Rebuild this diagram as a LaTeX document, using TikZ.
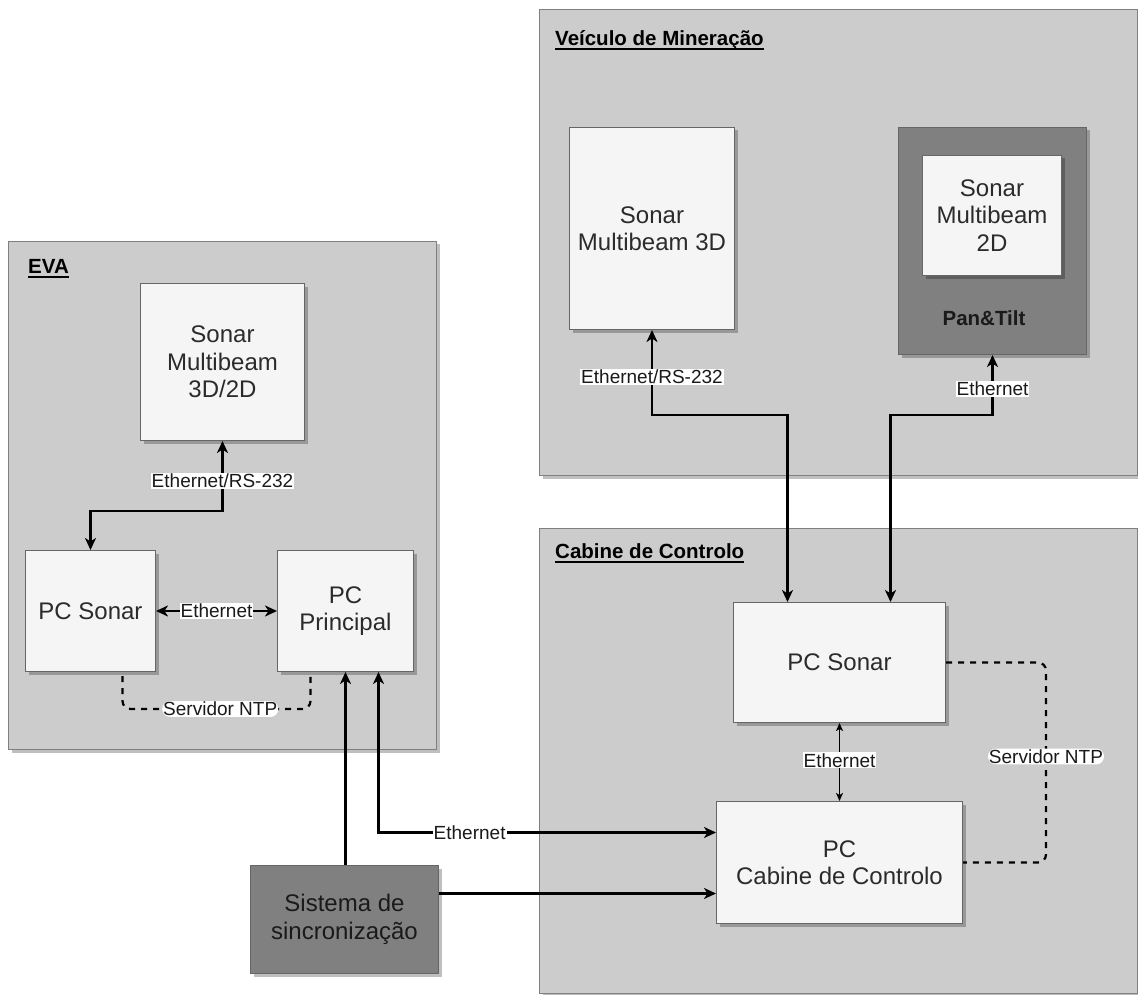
\documentclass[tikz,border=0pt]{standalone}
\usepackage{fontspec}
\setmainfont{Liberation Sans}
\usetikzlibrary{arrows.meta,shadows}
\definecolor{panel}{HTML}{CCCCCC}
\definecolor{panelline}{HTML}{808080}
\definecolor{boxfill}{HTML}{F5F5F5}
\definecolor{boxline}{HTML}{666666}
\definecolor{darkfill}{HTML}{808080}
\definecolor{boxtext}{HTML}{2B2B2B}
\definecolor{darktext}{HTML}{1A1A1A}
\begin{document}
\begin{tikzpicture}[x=1pt,y=-1pt,
  shade/.style={drop shadow={shadow xshift=3pt,shadow yshift=-3pt,opacity=0.25,fill=black}},
  panelbox/.style={draw=panelline,fill=panel,line width=1pt,shade,inner sep=0pt,anchor=north west},
  box/.style={draw=boxline,fill=boxfill,line width=1pt,shade,inner sep=0pt,anchor=north west,
    align=center,text=boxtext,font=\fontsize{24}{27.5}\selectfont},
  darkbox/.style={box,fill=darkfill,text=darktext},
  grouptitle/.style={anchor=base west,inner sep=0pt,text=black,font=\fontsize{20.5}{24}\bfseries\selectfont},
  lbl/.style={fill=white,inner sep=1pt,text=darktext,font=\fontsize{19}{20}\selectfont},
  tip/.tip={Stealth[length=12pt,width=11pt,inset=3.5pt]},
  smalltip/.tip={Stealth[length=8pt,width=7pt,inset=2pt]},
  conn/.style={line width=2.3pt,draw=black},
  thinconn/.style={line width=1.4pt,draw=black},
  ntp/.style={line width=2.2pt,draw=black,dash pattern=on 6pt off 6pt,rounded corners=8pt}
]
\useasboundingbox (0,0) rectangle (1138,995);

% group panels
\node[panelbox,minimum width=428,minimum height=508] (eva) at (8,241) {};
\node[panelbox,minimum width=598,minimum height=466] (veic) at (539,9) {};
\node[panelbox,minimum width=598,minimum height=465] (cab) at (539,528) {};

% group titles with underlines
\node[grouptitle] (evat) at (28,273.5) {EVA};
\draw[line width=1.5pt] ([yshift=-3.5pt]evat.base west) -- ([yshift=-3.5pt]evat.base east);
\node[grouptitle] (veict) at (555,45.5) {Veículo de Mineração};
\draw[line width=1.5pt] ([yshift=-3.5pt]veict.base west) -- ([yshift=-3.5pt]veict.base east);
\node[grouptitle] (cabt) at (555,558.5) {Cabine de Controlo};
\draw[line width=1.5pt] ([yshift=-3.5pt]cabt.base west) -- ([yshift=-3.5pt]cabt.base east);

% EVA
\node[box,minimum width=164,minimum height=157] (evasonar) at (140,283) {Sonar\\Multibeam\\3D/2D};
\node[box,minimum width=130,minimum height=121] (evapcs) at (25,550) {PC Sonar};
\node[box,minimum width=136,minimum height=121] (evapcp) at (277,550) {PC\\Principal};

% mining vehicle
\node[box,minimum width=165,minimum height=202] (sonar3d) at (569,127) {Sonar\\Multibeam 3D};
\node[darkbox,minimum width=188,minimum height=227] (pantilt) at (898,127) {};
\node[box,minimum width=139,minimum height=120] (sonar2d) at (922,155) {Sonar\\Multibeam\\2D};
\node[inner sep=0pt,text=darktext,font=\fontsize{20.5}{24}\bfseries\selectfont] (ptlabel) at (984,318) {Pan\&Tilt};

% control cabin
\node[box,minimum width=212,minimum height=120] (cabpcs) at (733,602) {PC Sonar};
\node[box,minimum width=246,minimum height=122] (cabpc) at (716,801) {PC\\Cabine de Controlo};

% synchronisation system
\node[darkbox,minimum width=188,minimum height=108] (sync) at (250,865) {Sistema de\\sincronização};

% routing helpers
\coordinate (busy) at (0,415);
\coordinate (ntpx) at (1046,0);

% EVA links
\draw[conn,{tip}-{tip}] (evasonar.south) -- node[lbl,pos=0.57] {Ethernet/RS-232} ([yshift=-70pt]evasonar.south) -| (evapcs.north);
\draw[conn,{tip}-{tip}] (evapcs.east) -- node[lbl] {Ethernet} (evapcp.west);
\draw[ntp] ([xshift=32pt,yshift=-4pt]evapcs.south) -- ([xshift=32pt,yshift=-37pt]evapcs.south)
  -- node[lbl,solid,pos=0.52] {Servidor NTP} ([xshift=-35pt,yshift=-37pt]evapcp.south) -- ([xshift=-35pt,yshift=-4pt]evapcp.south);

% synchronisation and Ethernet to the cabin
\draw[conn,-{tip}] (evapcp.south |- sync.north) -- (evapcp.south);
\draw[conn,{tip}-{tip}] ([xshift=33pt]evapcp.south) |- node[lbl,pos=0.635] {Ethernet} ([yshift=30pt]cabpc.west);
\draw[conn,-{tip}] ([yshift=26pt]sync.east) -- ([yshift=26pt]sync.east -| cabpc.west);

% vehicle sensors to the cabin sonar PC
\draw[conn,{tip}-{tip}] (sonar3d.south) -- node[lbl,pos=0.55] {Ethernet/RS-232} (sonar3d.south |- busy) -| ([xshift=-52pt]cabpcs.north);
\draw[conn,{tip}-{tip}] (pantilt.south) -- node[lbl,pos=0.57] {Ethernet} (pantilt.south |- busy) -| ([xshift=51pt]cabpcs.north);

% cabin links
\draw[thinconn,{smalltip}-{smalltip}] (cabpcs.south) -- node[lbl,pos=0.48] {Ethernet} (cabpcs.south |- cabpc.north);
\draw[ntp] (cabpcs.east) -- (cabpcs.east -| ntpx) -- node[lbl,solid,pos=0.47] {Servidor NTP} (cabpc.east -| ntpx) -- (cabpc.east);
\end{tikzpicture}
\end{document}
